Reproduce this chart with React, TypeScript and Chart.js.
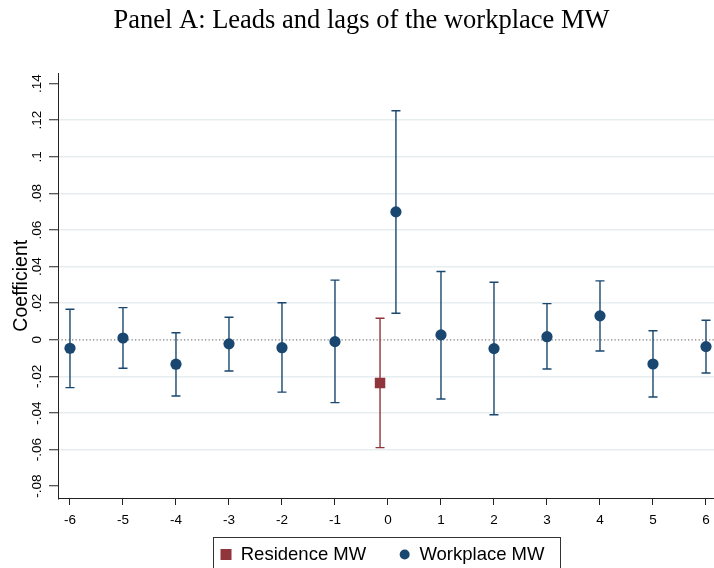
import React, { useEffect, useRef } from "react";
import { Chart, registerables } from "chart.js";

Chart.register(...registerables);

// ---------- data ----------
const periods = [-6, -5, -4, -3, -2, -1, 0, 1, 2, 3, 4, 5, 6];
const workplaceX = [-6, -5, -4, -3, -2, -1, 0.15, 1, 2, 3, 4, 5, 6];
const workplaceCoef = [-0.0046, 0.001, -0.0133, -0.0022, -0.0043, -0.001, 0.0699, 0.0027, -0.0048, 0.0017, 0.0131, -0.0132, -0.0037];
const workplaceLower = [-0.0261, -0.0155, -0.0307, -0.017, -0.0286, -0.0343, 0.0145, -0.0323, -0.0409, -0.0159, -0.0061, -0.0312, -0.0181];
const workplaceUpper = [0.0167, 0.0176, 0.0039, 0.0123, 0.0203, 0.0326, 0.1252, 0.0373, 0.0315, 0.0198, 0.0322, 0.005, 0.0107];
const residenceX = [-0.15];
const residenceCoef = [-0.0236];
const residenceLower = [-0.0589];
const residenceUpper = [0.0118];
const yTickValues = [-0.08, -0.06, -0.04, -0.02, 0, 0.02, 0.04, 0.06, 0.08, 0.1, 0.12, 0.14];
const yTickLabels = ["-.08", "-.06", "-.04", "-.02", "0", ".02", ".04", ".06", ".08", ".1", ".12", ".14"];
const xTickLabels = periods.map((p) => String(p));

const NAVY = "#1a476f";
const MAROON = "#90353b";
const SANS = "'Liberation Sans', Arial, sans-serif";
const SERIF = "'Liberation Serif', 'Times New Roman', serif";

const errorBarPlugin = {
  id: "errorBars",
  beforeDatasetsDraw(chart: any) {
    const ctx = chart.ctx;
    const xs = chart.scales.x;
    const ys = chart.scales.y;
    ctx.save();
    // zero reference line (dotted)
    const y0 = ys.getPixelForValue(0);
    ctx.strokeStyle = "#808080";
    ctx.lineWidth = 1.2;
    ctx.setLineDash([1.3, 2.2]);
    ctx.beginPath();
    ctx.moveTo(chart.chartArea.left, y0);
    ctx.lineTo(chart.chartArea.right, y0);
    ctx.stroke();
    ctx.setLineDash([]);
    chart.data.datasets.forEach((ds: any) => {
      const xv: number[] = ds.errX;
      const lo: number[] = ds.errLower;
      const hi: number[] = ds.errUpper;
      ctx.strokeStyle = ds.borderColor;
      ctx.lineWidth = 1.4;
      for (let i = 0; i < xv.length; i++) {
        const px = xs.getPixelForValue(xv[i]);
        const pl = ys.getPixelForValue(lo[i]);
        const ph = ys.getPixelForValue(hi[i]);
        ctx.beginPath();
        ctx.moveTo(px, pl);
        ctx.lineTo(px, ph);
        ctx.moveTo(px - 4.5, pl);
        ctx.lineTo(px + 4.5, pl);
        ctx.moveTo(px - 4.5, ph);
        ctx.lineTo(px + 4.5, ph);
        ctx.stroke();
      }
    });
    ctx.restore();
  },
};

// Stata-style boxed legend below the plot, centred on the plot region
const legendPlugin = {
  id: "stataLegend",
  afterDraw(chart: any) {
    const ctx = chart.ctx;
    const area = chart.chartArea;
    const fontSize = 18.5;
    const marker = 11;
    const gap = fontSize / 2;
    const itemGap = 33;
    ctx.save();
    ctx.font = `${fontSize}px ${SANS}`;
    const items = chart.data.datasets.map((ds: any) => ({
      text: ds.label as string,
      color: ds.backgroundColor as string,
      shape: ds.pointStyle as string,
      w: ctx.measureText(ds.label).width,
    }));
    const total = items.reduce((s: number, it: any, i: number) => s + marker + gap + it.w + (i > 0 ? itemGap : 0), 0);
    const cx = (area.left + area.right) / 2 - 3.5;
    const cy = area.bottom + 56;
    let x = cx - total / 2;
    const startX = x;
    items.forEach((it: any, i: number) => {
      if (i > 0) x += itemGap;
      ctx.fillStyle = it.color;
      if (it.shape === "rect") {
        ctx.fillRect(x, cy - marker / 2, marker, marker);
      } else {
        ctx.beginPath();
        ctx.arc(x + marker / 2, cy, 5, 0, Math.PI * 2);
        ctx.fill();
      }
      x += marker + gap;
      ctx.fillStyle = "#000";
      ctx.textAlign = "left";
      ctx.textBaseline = "middle";
      ctx.fillText(it.text, x, cy);
      x += it.w;
    });
    const left = Math.round(startX - 7.5) + 0.5;
    const right = Math.round(x + 16) + 0.5;
    const top = Math.round(cy - 18) + 0.5;
    ctx.strokeStyle = "#333";
    ctx.lineWidth = 1;
    ctx.strokeRect(left, top, right - left, 60);
    ctx.restore();
  },
};

export default function App() {
  const ref = useRef<HTMLCanvasElement | null>(null);
  useEffect(() => {
    if (!ref.current) return;
    const chart = new Chart(ref.current, {
      type: "scatter",
      data: {
        datasets: [
          {
            label: "Residence MW",
            data: residenceX.map((x, i) => ({ x, y: residenceCoef[i] })),
            pointStyle: "rect",
            pointRadius: 7.4,
            backgroundColor: MAROON,
            borderColor: MAROON,
            borderWidth: 0,
            errX: residenceX,
            errLower: residenceLower,
            errUpper: residenceUpper,
          } as any,
          {
            label: "Workplace MW",
            data: workplaceX.map((x, i) => ({ x, y: workplaceCoef[i] })),
            pointStyle: "circle",
            pointRadius: 5.6,
            backgroundColor: NAVY,
            borderColor: NAVY,
            borderWidth: 0,
            errX: workplaceX,
            errLower: workplaceLower,
            errUpper: workplaceUpper,
          } as any,
        ],
      },
      options: {
        responsive: false,
        animation: false,
        events: [],
        layout: { autoPadding: false, padding: { top: 0, left: 9, right: 0, bottom: 39.5 } },
        plugins: {
          tooltip: { enabled: false },
          legend: { display: false },
          title: {
            display: true,
            text: "Panel A: Leads and lags of the workplace MW",
            color: "#000",
            font: { family: SERIF, size: 26.5, weight: "normal", lineHeight: 1.2 },
            padding: { top: 4.7, bottom: 36.5 },
          },
        },
        scales: {
          x: {
            type: "linear",
            min: -6.226,
            max: 6.151,
            afterBuildTicks: (s: any) => {
              s.ticks = periods.map((v) => ({ value: v }));
            },
            afterFit: (s: any) => {
              s.height = 30;
              s.paddingLeft = 0;
              s.paddingRight = 0;
            },
            grid: {
              drawOnChartArea: false,
              drawTicks: true,
              tickLength: 6.5,
              tickColor: "#222",
              tickWidth: 1,
            },
            border: { display: true, color: "#222", width: 1 },
            ticks: {
              autoSkip: false,
              maxRotation: 0,
              padding: 7,
              color: "#000",
              font: { family: SANS, size: 13.5 },
              callback: (_v: any, i: number) => xTickLabels[i],
            },
          },
          y: {
            type: "linear",
            min: -0.0867,
            max: 0.1458,
            afterBuildTicks: (s: any) => {
              s.ticks = yTickValues.map((v) => ({ value: v }));
            },
            afterFit: (s: any) => {
              s.width = 49;
            },
            grid: {
              drawOnChartArea: true,
              drawTicks: true,
              tickLength: 9,
              tickWidth: 1,
              tickColor: "#222",
              lineWidth: 1.5,
              color: (ctx: any) => {
                const v = ctx.tick ? ctx.tick.value : null;
                if (v === null) return "rgba(0,0,0,0)";
                if (Math.abs(v) < 1e-9 || Math.abs(v - 0.14) < 1e-9 || Math.abs(v + 0.08) < 1e-9) return "rgba(0,0,0,0)";
                return "#e6eef0";
              },
            },
            border: { display: true, color: "#222", width: 1 },
            title: {
              display: true,
              text: "Coefficient",
              color: "#000",
              font: { family: SANS, size: 19.5 },
              padding: { top: 1, bottom: 0 },
            },
            ticks: {
              autoSkip: false,
              minRotation: 90,
              maxRotation: 90,
              crossAlign: "center",
              padding: 0,
              color: "#000",
              font: { family: SANS, size: 13.5 },
              callback: (_v: any, i: number) => yTickLabels[i],
            },
          },
        },
      } as any,
      plugins: [errorBarPlugin, legendPlugin],
    });
    return () => chart.destroy();
  }, []);
  return (
    <div style={{ position: "fixed", left: 0, top: 0, width: 714, height: 568, background: "#fff" }}>
      <canvas ref={ref} width={714} height={568} style={{ width: 714, height: 568, display: "block" }} />
    </div>
  );
}
